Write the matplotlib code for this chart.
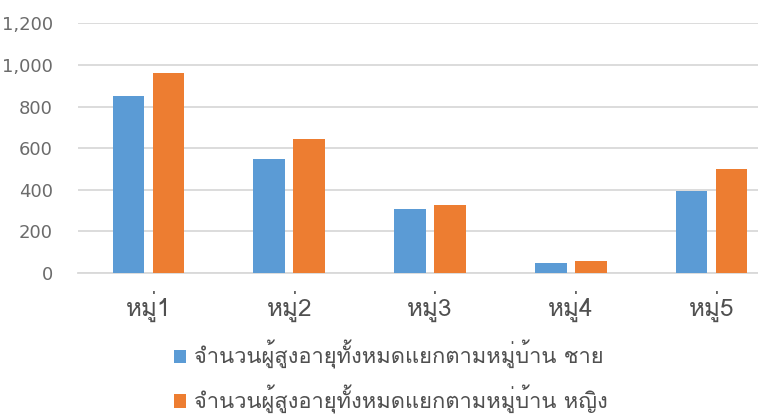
import matplotlib
matplotlib.use("Agg")
import matplotlib.pyplot as plt
from matplotlib import font_manager
import numpy as np

categories = ["หมู่1", "หมู่2", "หมู่3", "หมู่4", "หมู่5"]
male = [850, 548, 306, 47, 394]
female = [962, 644, 325, 58, 500]
series_names = ["จำนวนผู้สูงอายุทั้งหมดแยกตามหมู่บ้าน ชาย",
                "จำนวนผู้สูงอายุทั้งหมดแยกตามหมู่บ้าน หญิง"]
yticks = [0, 200, 400, 600, 800, 1000, 1200]

# pick an installed font with Thai glyphs (Tahoma-like preferred)
names = {f.name for f in font_manager.fontManager.ttflist}
pref = None
for key in ["Tahoma", "Leelawadee", "Loma", "Waree", "Noto Sans Thai Looped", "Noto Sans Thai"]:
    if key in names:
        pref = key
        break
fams = ([pref] if pref else []) + ["DejaVu Sans"]
plt.rcParams['font.family'] = fams

W, H = 758, 416
fig = plt.figure(figsize=(W / 100, H / 100), dpi=100)
left, right = 78 / W, 782 / W
top, bottom = 23.3 / H, 273 / H
ax = fig.add_axes([left, 1 - bottom, right - left, bottom - top])

x = np.arange(len(categories))
bw = 0.224
off = 0.142
c_blue = "#5B9BD5"
c_orange = "#ED7D31"
b1 = ax.bar(x - off, male, bw, color=c_blue, label=series_names[0], zorder=3)
b2 = ax.bar(x + off, female, bw, color=c_orange, label=series_names[1], zorder=3)

ax.set_xlim(-0.5, len(categories) - 0.5)
ax.set_ylim(0, 1200)
ax.set_yticks(yticks)
ax.set_yticklabels([f"{v:,}" for v in yticks], color="#6b6b6b", fontsize=13, family="DejaVu Sans")
ax.set_xticks(x)
ax.set_xticklabels(categories, color="#505050", fontsize=17.5)
ax.tick_params(axis="y", length=0, pad=18)
ax.tick_params(axis="x", length=0, pad=13)
ax.grid(axis="y", color="#D9D9D9", linewidth=1.3, zorder=0)
for s in ["top", "right", "left"]:
    ax.spines[s].set_visible(False)
ax.spines["bottom"].set_color("#D9D9D9")
ax.spines["bottom"].set_linewidth(1.3)

leg = fig.legend(handles=[b1, b2], labels=series_names, loc="upper left",
                 bbox_to_anchor=(159 / W, 1 - 325 / H), frameon=False, borderpad=0.2,
                 fontsize=15.8, handlelength=0.55, handleheight=0.55, handletextpad=0.35,
                 labelspacing=0.72, labelcolor="#505050")

fig.savefig("out.png", dpi=100)
